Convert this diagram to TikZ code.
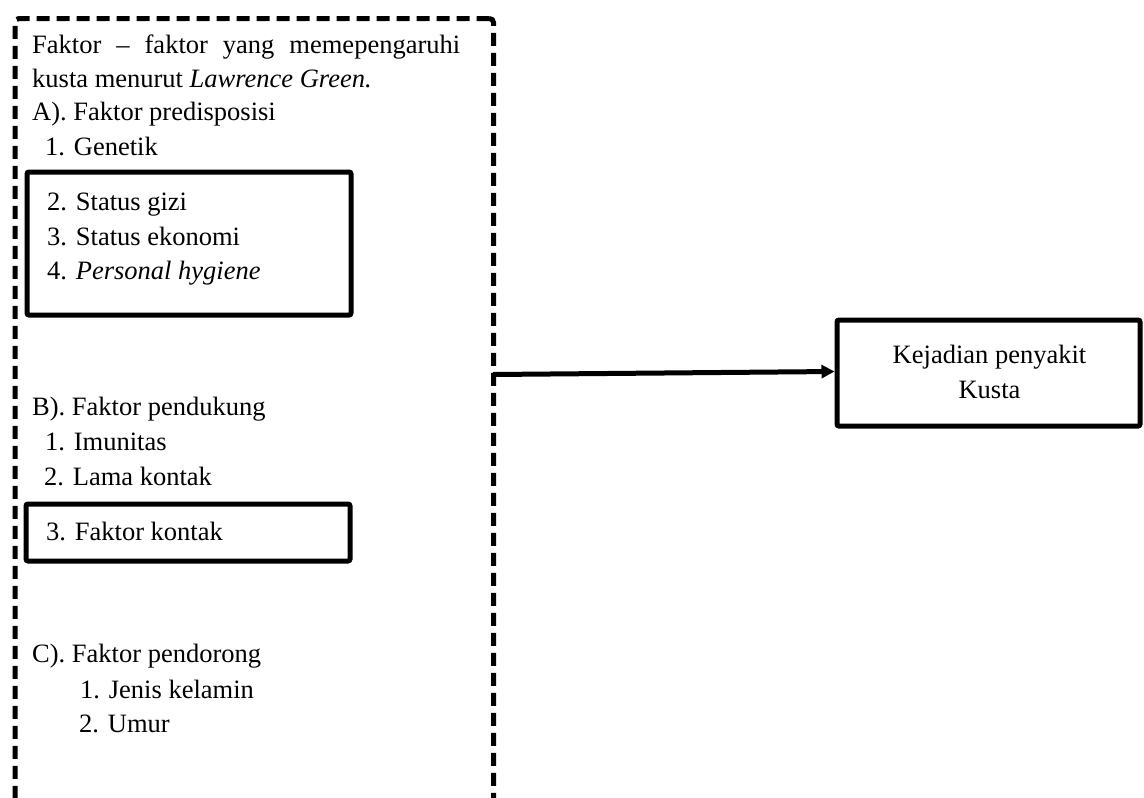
\documentclass[tikz,border=0pt]{standalone}
\usepackage{fontspec}
\setmainfont{Liberation Serif}
\usetikzlibrary{arrows.meta}
\begin{document}
\begin{tikzpicture}[x=1pt,y=-1pt,
  txt/.style={anchor=base west, inner sep=0pt, font=\fontsize{26.5}{34}\selectfont},
  solidbox/.style={draw, line width=5pt, rounded corners=2pt, inner sep=0pt},
  dashframe/.style={draw, line width=5pt, dash pattern=on 13pt off 7pt, rounded corners=4pt, inner sep=0pt},
  link/.style={line width=5pt, -{Triangle[length=13pt,width=13pt]}}
]
\useasboundingbox (0,0) rectangle (1144,798);
% dashed frame (bottom runs past the picture)
\node[dashframe, anchor=north west, minimum width=478.5pt, minimum height=840pt] (frame) at (12.5,16) {};
% solid inner boxes
\node[solidbox, minimum width=324pt, minimum height=143pt] (box1) at (189,243.5) {};
\node[solidbox, minimum width=324pt, minimum height=57pt] (box2) at (188,532.5) {};
% outcome box
\node[solidbox, minimum width=303pt, minimum height=106pt] (outcome) at (988.5,373) {};
\node[anchor=base, inner sep=0pt, font=\fontsize{26.5}{34}\selectfont] (o1) at (989.5,363) {Kejadian penyakit};
\node[anchor=base, inner sep=0pt, font=\fontsize{26.5}{34}\selectfont] (o2) at (989.5,398) {Kusta};
% texts
\node[txt] (t1) at (32,53) {\makebox[428pt][s]{Faktor – faktor yang memepengaruhi}};
\node[txt] (t2) at (32,87) {kusta menurut \textit{Lawrence Green.}};
\node[txt] (t3) at (32,120) {A). Faktor predisposisi};
\node[txt] (t4) at (45,155) {1. Genetik};
\node[txt] (t5) at (47,210) {2. Status gizi};
\node[txt] (t6) at (47,245) {3. Status ekonomi};
\node[txt] (t7) at (47,279) {4. \textit{Personal hygiene}};
\node[txt] (t8) at (32,415) {B). Faktor pendukung};
\node[txt] (t9) at (45,450) {1. Imunitas};
\node[txt] (t10) at (44,485) {2. Lama kontak};
\node[txt] (t11) at (46,540) {3. Faktor kontak};
\node[txt] (t12) at (32,662) {C). Faktor pendorong};
\node[txt] (t13) at (80,698) {1. Jenis kelamin};
\node[txt] (t14) at (79,732) {2. Umur};
% arrow
\coordinate (astart) at (493,374.5);
\draw[link] (astart) -- ([yshift=1.5pt]outcome.west);
\end{tikzpicture}
\end{document}
